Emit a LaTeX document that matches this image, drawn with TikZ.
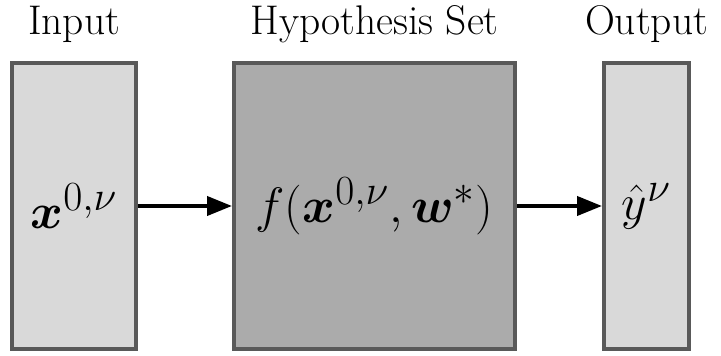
\documentclass[tikz,border=0pt]{standalone}
\usepackage{amsmath,amssymb}
\usepackage{bm}
\usepackage{tikz}
\usetikzlibrary{arrows.meta,positioning,calc}
\usepackage{xcolor}
\definecolor{lightbox}{RGB}{217,217,217}
\definecolor{darkbox}{RGB}{171,171,171}
\definecolor{boxedge}{RGB}{89,89,89}

\begin{document}
\begin{tikzpicture}[
    block/.style={rectangle, draw=boxedge, line width=2pt, minimum height=143pt, inner sep=0pt, font=\Huge},
    title/.style={anchor=base, font=\huge, inner sep=0pt},
    arrow/.style={-{Triangle[length=12.5pt,width=9.5pt]}, line width=2pt}
]
    \useasboundingbox (-37pt,-75pt) rectangle (323.5pt,103pt);

    % Boxes
    \node[block, fill=lightbox, minimum width=62pt] (input) at (0,0) {$\bm{x}^{0,\nu}$};
    \node[block, fill=darkbox, minimum width=140.5pt, right=47pt of input] (hyp) {$f(\bm{x}^{0,\nu},\bm{w}^{*})$};
    \node[block, fill=lightbox, minimum width=42.5pt, right=42.5pt of hyp] (output) {$\hat{y}^{\nu}$};

    % Titles
    \node[above=13pt of input.north, title] (inputlabel) {Input};
    \node[above=13pt of hyp.north, title] (hyplabel) {Hypothesis Set};
    \node[above=13pt of output.north, title] (outputlabel) {Output};

    % Arrows
    \draw[arrow] (input) -- (hyp);
    \draw[arrow] (hyp) -- (output);
\end{tikzpicture}
\end{document}
